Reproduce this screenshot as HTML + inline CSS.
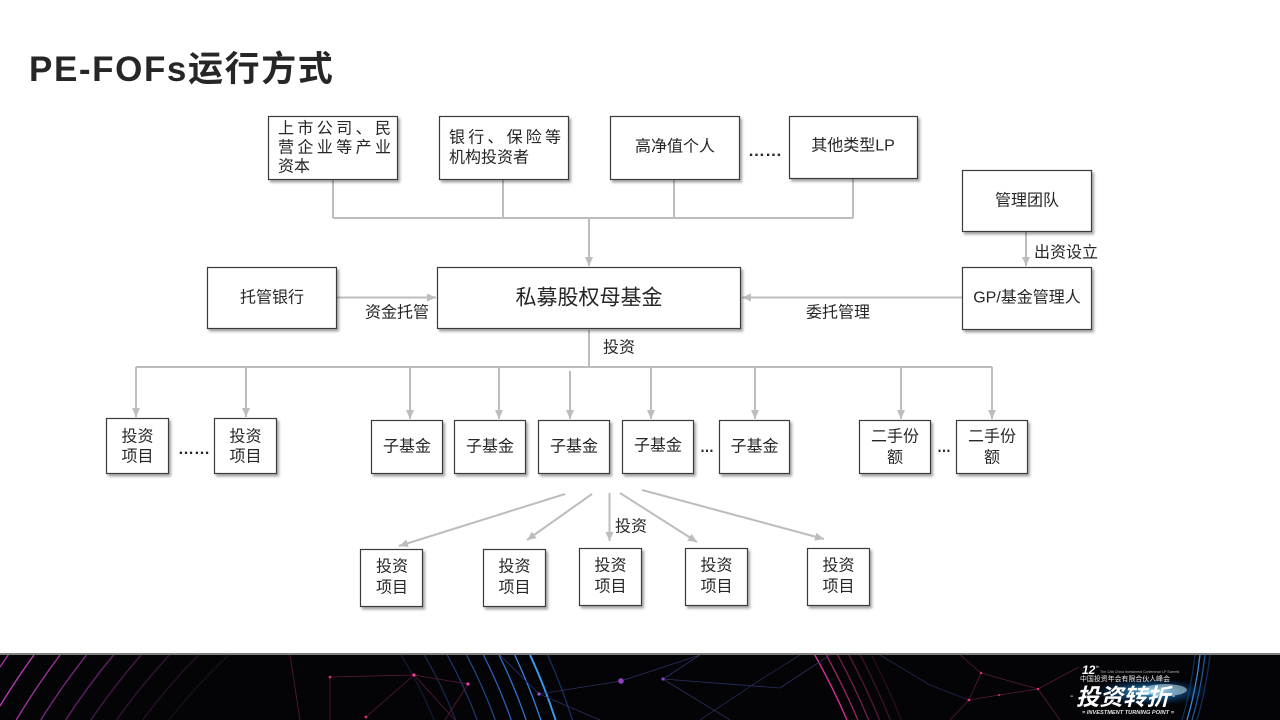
<!DOCTYPE html>
<html><head><meta charset="utf-8">
<style>
html,body{margin:0;padding:0;background:#fff;width:1280px;height:720px;overflow:hidden;}
svg{display:block;}
text{font-family:"Liberation Sans","Noto Sans CJK SC",sans-serif;fill:#262626;}
</style></head>
<body>
<svg width="1280" height="720" viewBox="0 0 1280 720" xmlns="http://www.w3.org/2000/svg">
<defs>
<marker id="ar" viewBox="0 0 10 10" refX="10" refY="5" markerWidth="9" markerHeight="9" markerUnits="userSpaceOnUse" orient="auto">
<path d="M0,0.5 L10,5 L0,9.5 z" fill="#bdbdbd"/>
</marker>
<filter id="sh" x="-10%" y="-10%" width="130%" height="130%">
<feDropShadow dx="2" dy="2.5" stdDeviation="1.4" flood-color="#000" flood-opacity="0.35"/>
</filter>
<radialGradient id="glow" cx="0.5" cy="0.5" r="0.5">
<stop offset="0" stop-color="#9fe8ff" stop-opacity="0.9"/>
<stop offset="0.35" stop-color="#2aa8ff" stop-opacity="0.55"/>
<stop offset="1" stop-color="#0040a0" stop-opacity="0"/>
</radialGradient>
</defs>

<!-- Title -->
<text x="29" y="81" font-size="35" font-weight="bold" letter-spacing="1.6" style="fill:#262626">PE-FOFs运行方式</text>

<!-- connectors -->
<g stroke="#bdbdbd" stroke-width="2" fill="none">
<path d="M333 180 V218 M503 180 V218 M674 180 V218 M853 179 V218 M333 218 H853"/>
<path d="M589 218 V266" marker-end="url(#ar)"/>
<path d="M337 297.5 H436" marker-end="url(#ar)"/>
<path d="M962 297.5 H742" marker-end="url(#ar)"/>
<path d="M1026 232 V266" marker-end="url(#ar)"/>
<path d="M589 330 V367 M136 367 H992"/>
<path d="M136 367 V417" marker-end="url(#ar)"/>
<path d="M246 367 V417" marker-end="url(#ar)"/>
<path d="M410 367 V419" marker-end="url(#ar)"/>
<path d="M499 367 V419" marker-end="url(#ar)"/>
<path d="M570 371 V419" marker-end="url(#ar)"/>
<path d="M651 367 V419" marker-end="url(#ar)"/>
<path d="M755 367 V419" marker-end="url(#ar)"/>
<path d="M901 367 V419" marker-end="url(#ar)"/>
<path d="M992 367 V419" marker-end="url(#ar)"/>
<path d="M565 494 L399 546" marker-end="url(#ar)"/>
<path d="M592 494 L527 540" marker-end="url(#ar)"/>
<path d="M609.5 493 V541" marker-end="url(#ar)"/>
<path d="M620 493 L697 542" marker-end="url(#ar)"/>
<path d="M642 490 L824 539" marker-end="url(#ar)"/>
</g>

<!-- boxes -->
<g fill="#fff" stroke="#3a3a3a" stroke-width="1.2" filter="url(#sh)">
<rect x="268.5" y="116.5" width="129" height="63"/>
<rect x="439.5" y="116.5" width="129" height="63"/>
<rect x="610.5" y="116.5" width="129" height="63"/>
<rect x="789.5" y="116.5" width="128" height="62"/>
<rect x="962.5" y="170.5" width="129" height="61"/>
<rect x="207.5" y="267.5" width="129" height="61"/>
<rect x="437.5" y="267.5" width="303" height="61"/>
<rect x="962.5" y="267.5" width="129" height="62"/>
<rect x="106.5" y="418.5" width="62" height="55"/>
<rect x="214.5" y="418.5" width="62" height="55"/>
<rect x="371.5" y="420.5" width="71" height="53"/>
<rect x="454.5" y="420.5" width="71" height="53"/>
<rect x="538.5" y="420.5" width="71" height="53"/>
<rect x="622.5" y="420.5" width="71" height="53"/>
<rect x="719.5" y="420.5" width="70" height="53"/>
<rect x="859.5" y="420.5" width="71" height="53"/>
<rect x="956.5" y="420.5" width="71" height="53"/>
<rect x="360.5" y="549.5" width="62" height="57"/>
<rect x="483.5" y="549.5" width="62" height="57"/>
<rect x="579.5" y="548.5" width="62" height="57"/>
<rect x="685.5" y="548.5" width="62" height="57"/>
<rect x="807.5" y="548.5" width="62" height="57"/>
</g>

<!-- box texts -->
<g font-size="16" dominant-baseline="central">
<text x="278" y="129" textLength="113" lengthAdjust="spacing">上市公司、民</text>
<text x="278" y="148" textLength="113" lengthAdjust="spacing">营企业等产业</text>
<text x="278" y="167">资本</text>
<text x="449" y="138" textLength="112" lengthAdjust="spacing">银行、保险等</text>
<text x="449" y="158">机构投资者</text>
</g>
<g font-size="16" text-anchor="middle" dominant-baseline="central">
<text x="675" y="147">高净值个人</text>
<text x="853" y="146">其他类型LP</text>
<text x="1027" y="201">管理团队</text>
<text x="1027" y="298">GP/基金管理人</text>
<text x="272" y="298">托管银行</text>
<text x="397" y="313">资金托管</text>
<text x="838" y="313">委托管理</text>
<text x="1066" y="253">出资设立</text>
<text x="619" y="348">投资</text>
<text x="137.5" y="437">投资</text><text x="137.5" y="457">项目</text>
<text x="245.5" y="437">投资</text><text x="245.5" y="457">项目</text>
<text x="407" y="447">子基金</text>
<text x="490" y="447">子基金</text>
<text x="574" y="447">子基金</text>
<text x="658" y="446">子基金</text>
<text x="754.5" y="447">子基金</text>
<text x="895" y="437">二手份</text><text x="895" y="458">额</text>
<text x="992" y="437">二手份</text><text x="992" y="458">额</text>
<text x="631" y="527">投资</text>
<text x="392" y="567">投资</text><text x="392" y="588">项目</text>
<text x="514.5" y="567">投资</text><text x="514.5" y="588">项目</text>
<text x="610.5" y="566">投资</text><text x="610.5" y="587">项目</text>
<text x="716.5" y="566">投资</text><text x="716.5" y="587">项目</text>
<text x="838.5" y="566">投资</text><text x="838.5" y="587">项目</text>
</g>
<text x="589" y="298" font-size="21" text-anchor="middle" dominant-baseline="central">私募股权母基金</text>

<!-- ellipses -->
<g font-size="16" font-weight="bold" style="font-family:'Liberation Sans',sans-serif">
<text x="748" y="156" textLength="34" lengthAdjust="spacingAndGlyphs">……</text>
<text x="178" y="454" textLength="32" lengthAdjust="spacingAndGlyphs">……</text>
<text x="700" y="452" textLength="14" lengthAdjust="spacingAndGlyphs">…</text>
<text x="937" y="452" textLength="14" lengthAdjust="spacingAndGlyphs">…</text>
</g>

<!-- Banner -->
<rect x="0" y="653" width="1280" height="2" fill="#808080"/>
<rect x="0" y="655" width="1280" height="65" fill="#040406"/>
<g fill="none">
<!-- left magenta arcs -->
<g stroke-width="1.4">
<path d="M8.2 655 A781 781 0 0 0 0 667" stroke="#b838b6" stroke-opacity="0.9"/>
<path d="M33.9 655 A760 760 0 0 0 0 706" stroke="#c23cc0" stroke-opacity="0.95"/>
<path d="M60 655 A739 739 0 0 0 16.2 720" stroke="#b036ae" stroke-opacity="0.9"/>
<path d="M86.5 655 A718 718 0 0 0 40.8 720" stroke="#98309a" stroke-opacity="0.8"/>
<path d="M113.5 655 A697 697 0 0 0 65.7 720" stroke="#862a8a" stroke-opacity="0.7"/>
<path d="M141.1 655 A676 676 0 0 0 90.9 720" stroke="#742678" stroke-opacity="0.6"/>
<path d="M169.4 655 A655 655 0 0 0 116.5 720" stroke="#602064" stroke-opacity="0.5"/>
<path d="M198.4 655 A634 634 0 0 0 142.5 720" stroke="#4e1c54" stroke-opacity="0.45"/>
<path d="M228.4 655 A613 613 0 0 0 169 720" stroke="#3c1844" stroke-opacity="0.4"/>
</g>
<!-- blue arcs -->
<g stroke-width="1.3">
<path d="M401.1 655 A470 470 0 0 1 434.2 720" stroke="#1a2a55" stroke-opacity="0.6"/>
<path d="M424.4 655 A490 490 0 0 1 455.7 720" stroke="#1c3468" stroke-opacity="0.7"/>
<path d="M447.3 655 A510 510 0 0 1 477.2 720" stroke="#1f4282" stroke-opacity="0.8"/>
<path d="M466.6 655 A527 527 0 0 1 495.3 720" stroke="#2552a0" stroke-opacity="0.85"/>
<path d="M483.5 655 A542 542 0 0 1 511.2 720" stroke="#2a62b8"/>
<path d="M499.1 655 A556 556 0 0 1 526.1 720" stroke="#2e72cc"/>
<path d="M514.7 655 A570 570 0 0 1 540.8 720" stroke="#3486e0"/>
<path d="M530.1 655 A584 584 0 0 1 555.6 720" stroke="#3a98f0" stroke-width="2"/>
<path d="M547.7 655 A600 600 0 0 1 572.4 720" stroke="#2050a0" stroke-opacity="0.6"/>
</g>
<!-- mid-right pink arcs -->
<g stroke-width="1.3">
<path d="M814.8 655 A705 705 0 0 1 847 720" stroke="#e0309a"/>
<path d="M826.3 655 A715 715 0 0 1 857.9 720" stroke="#b82a70" stroke-opacity="0.85"/>
<path d="M837.7 655 A725 725 0 0 1 868.7 720" stroke="#9a2460" stroke-opacity="0.8"/>
<path d="M849 655 A735 735 0 0 1 879.6 720" stroke="#801e50" stroke-opacity="0.7"/>
<path d="M860.3 655 A745 745 0 0 1 890.4 720" stroke="#681a44" stroke-opacity="0.6"/>
<path d="M871.6 655 A755 755 0 0 1 901.2 720" stroke="#521638" stroke-opacity="0.5"/>
</g>
<!-- right blue arcs -->
<g stroke-width="1.2">
<path d="M1200 655 Q1196 690 1187 720" stroke="#3a90e0"/>
<path d="M1205 655 Q1201 690 1192 720" stroke="#2a70c0" stroke-opacity="0.8"/>
<path d="M1210 655 Q1206 690 1197 720" stroke="#2050a0" stroke-opacity="0.6"/>
<path d="M1195 655 Q1191 690 1182 720" stroke="#1e4a90" stroke-opacity="0.6"/>
</g>
<!-- network -->
<g stroke-width="0.8">
<path d="M330 677 L414 675 L468 684 M414 675 L366 717 M414 675 L455 720 M468 684 L445 720 M330 677 V720 M290 655 L300 720" stroke="#5a1a3a"/>
<path d="M539 694 L621 681 M539 694 L600 720 M500 655 L539 694 M621 681 L700 655 M663 679 L700 655 M663 679 L730 720 M663 679 L780 688 M780 688 L830 655" stroke="#2a3060"/>
<path d="M969 700 L981 673 L1038 689 L1079 667 M969 700 L999 695 L1038 689 M969 700 L950 720 M981 673 L960 655 M1038 689 L1060 720" stroke="#5a1a3a"/>
<path d="M880 655 L930 685 L969 700 M700 720 L760 680 L800 655" stroke="#202850"/>
</g>
</g>
<g>
<circle cx="330" cy="677" r="1.3" fill="#e0307a"/>
<circle cx="414" cy="675" r="1.6" fill="#ff3a8a"/>
<circle cx="468" cy="684" r="1.6" fill="#e040c0"/>
<circle cx="366" cy="717" r="1.4" fill="#e0307a"/>
<circle cx="539" cy="694" r="1.6" fill="#a050d0"/>
<circle cx="621" cy="681" r="2.8" fill="#9040c0"/>
<circle cx="663" cy="679" r="1.6" fill="#9040c0"/>
<circle cx="981" cy="673" r="1.2" fill="#e0307a"/>
<circle cx="969" cy="700" r="1.4" fill="#e0307a"/>
<circle cx="1038" cy="689" r="1.2" fill="#e0307a"/>
<circle cx="999" cy="695" r="1" fill="#e0307a"/>
</g>
<!-- logo glow -->
<ellipse cx="1150" cy="692" rx="60" ry="14" fill="url(#glow)"/>
<ellipse cx="1165" cy="690" rx="22" ry="6" fill="#d8f6ff" fill-opacity="0.5"/>
<!-- logo text -->
<g style="font-family:'Liberation Sans','Noto Sans CJK SC',sans-serif">
<text x="1082" y="674" font-size="12" font-style="italic" font-weight="bold" style="fill:#fff">12</text>
<text x="1096" y="668" font-size="4" style="fill:#ddd">th</text>
<text x="1100" y="673" font-size="3.5" style="fill:#bbb">The 12th China Investment Conference LP Summit</text>
<text x="1080" y="681" font-size="7" textLength="90" lengthAdjust="spacingAndGlyphs" style="fill:#e8e8e8">中国投资年会有限合伙人峰会</text>
<text x="1076" y="705" font-size="23" font-weight="bold" font-style="italic" textLength="94" lengthAdjust="spacingAndGlyphs" style="fill:#ffffff">投资转折</text>
<text x="1070" y="699" font-size="10" style="fill:#cfefff">-</text>
<text x="1172" y="699" font-size="10" style="fill:#cfefff">-</text>
<text x="1082" y="714" font-size="5.5" font-weight="bold" font-style="italic" textLength="92" lengthAdjust="spacingAndGlyphs" style="fill:#e0e0e0">= INVESTMENT TURNING POINT =</text>
</g>
</svg>
</body></html>
